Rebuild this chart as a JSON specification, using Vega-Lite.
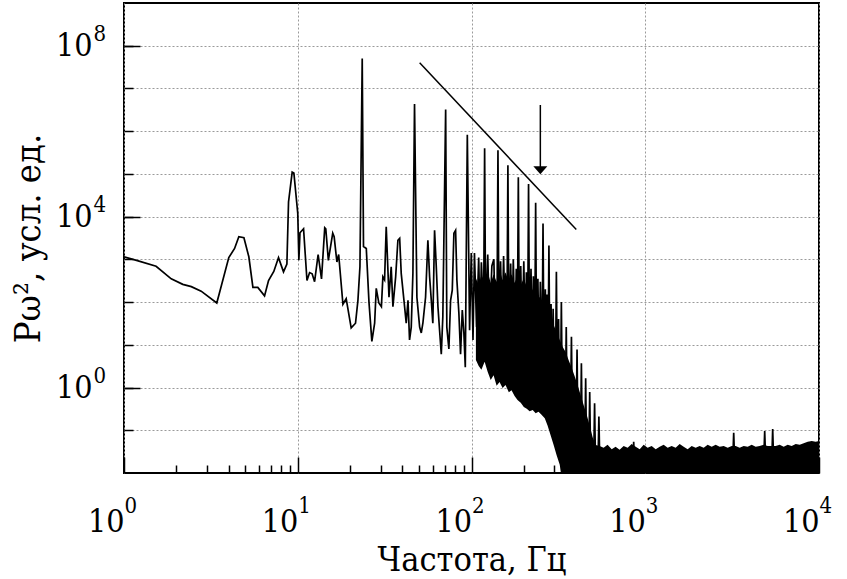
{
  "$schema": "https://vega.github.io/schema/vega-lite/v6.json",
  "width": 695,
  "height": 470,
  "autosize": {"type": "none"},
  "padding": {"left": 124, "top": 3, "right": 28, "bottom": 106},
  "background": "white",
  "config": {
    "view": {"stroke": "#000", "strokeWidth": 2},
    "font": "DejaVu Serif Condensed, DejaVu Serif",
    "axis": {"domain": false, "tickColor": "#000", "tickWidth": 1.5, "labelColor": "#000", "titleColor": "#000", "labelFont": "DejaVu Serif Condensed, DejaVu Serif", "titleFont": "DejaVu Serif Condensed, DejaVu Serif", "titleFontWeight": "normal", "gridColor": "#9a9a9a", "gridDash": [2, 2], "gridWidth": 1, "labelFlush": false, "labelOverlap": false}
  },
  "datasets": {
    "spec": [
      {"f": 1.0, "p": 1150}, {"f": 1.18, "p": 950}, {"f": 1.53, "p": 690}, {"f": 1.87, "p": 350}, {"f": 2.18, "p": 260},
      {"f": 2.44, "p": 230}, {"f": 2.78, "p": 180}, {"f": 3.42, "p": 95}, {"f": 4.01, "p": 1100}, {"f": 4.33, "p": 1800},
      {"f": 4.58, "p": 3400}, {"f": 4.9, "p": 3200}, {"f": 5.23, "p": 1150}, {"f": 5.52, "p": 220}, {"f": 5.89, "p": 220},
      {"f": 6.44, "p": 140}, {"f": 6.79, "p": 320}, {"f": 7.28, "p": 520}, {"f": 7.75, "p": 1100}, {"f": 8.28, "p": 510},
      {"f": 8.66, "p": 780}, {"f": 8.85, "p": 22000}, {"f": 9.29, "p": 110000}, {"f": 9.5, "p": 105000}, {"f": 10.0, "p": 12000},
      {"f": 10.15, "p": 950}, {"f": 10.3, "p": 4200}, {"f": 10.8, "p": 5200}, {"f": 11.3, "p": 320}, {"f": 11.7, "p": 490},
      {"f": 12.1, "p": 460}, {"f": 12.5, "p": 300}, {"f": 13.1, "p": 1300}, {"f": 13.7, "p": 350}, {"f": 14.3, "p": 5500},
      {"f": 14.5, "p": 5200}, {"f": 15.0, "p": 950}, {"f": 15.9, "p": 4100}, {"f": 16.2, "p": 3400}, {"f": 16.8, "p": 870},
      {"f": 17.2, "p": 1300}, {"f": 18.2, "p": 89}, {"f": 19.0, "p": 120}, {"f": 20.3, "p": 25}, {"f": 21.5, "p": 32},
      {"f": 22.2, "p": 110}, {"f": 22.8, "p": 670}, {"f": 23.5, "p": 50000000}, {"f": 23.9, "p": 2000}, {"f": 24.8, "p": 1800},
      {"f": 25.7, "p": 100}, {"f": 26.7, "p": 12}, {"f": 27.7, "p": 32}, {"f": 28.3, "p": 210}, {"f": 29.3, "p": 95},
      {"f": 30.3, "p": 78}, {"f": 30.9, "p": 390}, {"f": 31.6, "p": 330}, {"f": 32.3, "p": 5800}, {"f": 33.5, "p": 130},
      {"f": 34.5, "p": 670}, {"f": 35.3, "p": 78}, {"f": 36.6, "p": 390}, {"f": 37.7, "p": 2800}, {"f": 38.6, "p": 3100},
      {"f": 39.4, "p": 470}, {"f": 41.2, "p": 78}, {"f": 42.1, "p": 32}, {"f": 43.1, "p": 110}, {"f": 44.0, "p": 13},
      {"f": 45.0, "p": 26}, {"f": 46.0, "p": 470}, {"f": 47.0, "p": 4300000}, {"f": 48.5, "p": 130}, {"f": 50.3, "p": 26},
      {"f": 51.4, "p": 19}, {"f": 52.5, "p": 32}, {"f": 54.4, "p": 130}, {"f": 56.1, "p": 2800}, {"f": 57.4, "p": 390},
      {"f": 58.7, "p": 110}, {"f": 59.9, "p": 32}, {"f": 61.3, "p": 4800}, {"f": 62.7, "p": 670}, {"f": 64.1, "p": 78},
      {"f": 65.5, "p": 22}, {"f": 67.0, "p": 6}, {"f": 68.4, "p": 46}, {"f": 71.0, "p": 3200000}, {"f": 72.1, "p": 26},
      {"f": 74.1, "p": 8}, {"f": 75.8, "p": 110}, {"f": 77.5, "p": 190}, {"f": 79.2, "p": 4100}, {"f": 81.0, "p": 4800},
      {"f": 82.4, "p": 330}, {"f": 84.6, "p": 55}, {"f": 86.5, "p": 6}, {"f": 88.5, "p": 65}, {"f": 90.4, "p": 19},
      {"f": 92.1, "p": 3}, {"f": 94.6, "p": 830000}, {"f": 97.5, "p": 22}, {"f": 99.7, "p": 1400}, {"f": 102, "p": 13},
      {"f": 104, "p": 1400}, {"f": 107, "p": 26}, {"f": 110, "p": 1100}, {"f": 112, "p": 30}, {"f": 114, "p": 850},
      {"f": 117.4, "p": 50}, {"f": 119, "p": 400000}, {"f": 120.6, "p": 40},
      {"f": 124, "p": 1300}, {"f": 127, "p": 30}, {"f": 131, "p": 700}, {"f": 134.5, "p": 1000}, {"f": 137, "p": 25},
      {"f": 140.1, "p": 30}, {"f": 142, "p": 360000}, {"f": 143.9, "p": 25},
      {"f": 147, "p": 900}, {"f": 150, "p": 20}, {"f": 153, "p": 1200}, {"f": 156.5, "p": 20},
      {"f": 159.9, "p": 25}, {"f": 162, "p": 160000}, {"f": 164.1, "p": 20},
      {"f": 168, "p": 800}, {"f": 171, "p": 15}, {"f": 174, "p": 1000}, {"f": 178, "p": 12}, {"f": 181, "p": 600},
      {"f": 183.6, "p": 16}, {"f": 186, "p": 83000}, {"f": 188.5, "p": 14},
      {"f": 192, "p": 700}, {"f": 196, "p": 10}, {"f": 200, "p": 900}, {"f": 204, "p": 8}, {"f": 207, "p": 500},
      {"f": 210.2, "p": 10}, {"f": 213, "p": 58000}, {"f": 215.8, "p": 9},
      {"f": 220, "p": 600}, {"f": 224, "p": 6}, {"f": 227, "p": 400},
      {"f": 231, "p": 8}, {"f": 234, "p": 21000}, {"f": 237, "p": 7},
      {"f": 241, "p": 350}, {"f": 245, "p": 5}, {"f": 249, "p": 300},
      {"f": 254.7, "p": 5}, {"f": 258, "p": 6900}, {"f": 261.4, "p": 4},
      {"f": 266, "p": 200}, {"f": 270, "p": 3}, {"f": 272, "p": 150},
      {"f": 275.4, "p": 2.5}, {"f": 279, "p": 2100}, {"f": 282.7, "p": 2},
      {"f": 287, "p": 90}, {"f": 291, "p": 1.5}, {"f": 295, "p": 70}, {"f": 299, "p": 1.2},
      {"f": 304, "p": 1}, {"f": 308, "p": 510}, {"f": 312, "p": 0.8},
      {"f": 317, "p": 40}, {"f": 321, "p": 0.5},
      {"f": 324.8, "p": 0.4}, {"f": 329, "p": 100}, {"f": 333.3, "p": 0.35},
      {"f": 346.5, "p": 0.25}, {"f": 351, "p": 26}, {"f": 355.6, "p": 0.2},
      {"f": 371, "p": 0.16}, {"f": 376, "p": 15.5}, {"f": 381, "p": 0.13},
      {"f": 399.8, "p": 0.06}, {"f": 405, "p": 7.8}, {"f": 410.3, "p": 0.05},
      {"f": 423.5, "p": 0.03}, {"f": 429, "p": 3.7}, {"f": 434.6, "p": 0.03},
      {"f": 448, "p": 0.02}, {"f": 454, "p": 1.66}, {"f": 460, "p": 0.02},
      {"f": 472.8, "p": 0.015}, {"f": 479, "p": 0.79}, {"f": 485.3, "p": 0.015},
      {"f": 504.4, "p": 0.013}, {"f": 511, "p": 0.43}, {"f": 517.7, "p": 0.013},
      {"f": 534, "p": 0.013}, {"f": 541, "p": 0.21}, {"f": 548, "p": 0.013},
      {"f": 850, "p": 0.02}, {"f": 858, "p": 0.054}, {"f": 866, "p": 0.02},
      {"f": 3190, "p": 0.02}, {"f": 3229, "p": 0.087}, {"f": 3268, "p": 0.02},
      {"f": 4810, "p": 0.02}, {"f": 4869, "p": 0.096}, {"f": 4930, "p": 0.02},
      {"f": 5350, "p": 0.02}, {"f": 5413, "p": 0.107}, {"f": 5480, "p": 0.02},
      {"f": 10000, "p": 0.02}
    ],
    "band": [
      {"f": 106, "hi": 360, "lo": 4.4}, {"f": 110, "hi": 250, "lo": 3.2}, {"f": 114, "hi": 430, "lo": 2.6},
      {"f": 119, "hi": 295, "lo": 4.0}, {"f": 124, "hi": 500, "lo": 2.3}, {"f": 129, "hi": 280, "lo": 1.5},
      {"f": 134, "hi": 450, "lo": 1.95}, {"f": 139.5, "hi": 295, "lo": 1.1}, {"f": 145, "hi": 560, "lo": 1.35},
      {"f": 151, "hi": 325, "lo": 0.98}, {"f": 157, "hi": 500, "lo": 1.15}, {"f": 164, "hi": 295, "lo": 0.78},
      {"f": 170, "hi": 450, "lo": 0.87}, {"f": 177, "hi": 280, "lo": 0.63}, {"f": 184, "hi": 410, "lo": 0.51},
      {"f": 192, "hi": 250, "lo": 0.44}, {"f": 200, "hi": 360, "lo": 0.35}, {"f": 208, "hi": 225, "lo": 0.32},
      {"f": 216, "hi": 295, "lo": 0.28}, {"f": 225, "hi": 190, "lo": 0.30}, {"f": 234, "hi": 214, "lo": 0.25},
      {"f": 243, "hi": 138, "lo": 0.27}, {"f": 253, "hi": 112, "lo": 0.23}, {"f": 264, "hi": 81, "lo": 0.19},
      {"f": 274, "hi": 62, "lo": 0.13}, {"f": 285, "hi": 43, "lo": 0.078}, {"f": 297, "hi": 29, "lo": 0.045},
      {"f": 309, "hi": 20, "lo": 0.026}, {"f": 322, "hi": 13, "lo": 0.0155}, {"f": 335, "hi": 8.9, "lo": 0.005},
      {"f": 348, "hi": 6.8, "lo": 0.005}, {"f": 362, "hi": 4.4, "lo": 0.005}, {"f": 377, "hi": 2.9, "lo": 0.005},
      {"f": 392, "hi": 1.86, "lo": 0.005}, {"f": 408, "hi": 1.15, "lo": 0.005}, {"f": 425, "hi": 0.66, "lo": 0.005},
      {"f": 442, "hi": 0.39, "lo": 0.005}, {"f": 460, "hi": 0.23, "lo": 0.005}, {"f": 479, "hi": 0.13, "lo": 0.005},
      {"f": 498, "hi": 0.069, "lo": 0.005}, {"f": 518, "hi": 0.045, "lo": 0.005}, {"f": 546, "hi": 0.043, "lo": 0.005},
      {"f": 576, "hi": 0.039, "lo": 0.005}, {"f": 607, "hi": 0.046, "lo": 0.005}, {"f": 641, "hi": 0.036, "lo": 0.005},
      {"f": 675, "hi": 0.041, "lo": 0.005}, {"f": 712, "hi": 0.035, "lo": 0.005}, {"f": 751, "hi": 0.043, "lo": 0.005},
      {"f": 792, "hi": 0.039, "lo": 0.005}, {"f": 835, "hi": 0.048, "lo": 0.005}, {"f": 881, "hi": 0.041, "lo": 0.005},
      {"f": 929, "hi": 0.036, "lo": 0.005}, {"f": 979, "hi": 0.046, "lo": 0.005}, {"f": 1032, "hi": 0.039, "lo": 0.005},
      {"f": 1089, "hi": 0.043, "lo": 0.005}, {"f": 1148, "hi": 0.036, "lo": 0.005}, {"f": 1211, "hi": 0.041, "lo": 0.005},
      {"f": 1276, "hi": 0.046, "lo": 0.005}, {"f": 1346, "hi": 0.039, "lo": 0.005}, {"f": 1419, "hi": 0.043, "lo": 0.005},
      {"f": 1496, "hi": 0.039, "lo": 0.005}, {"f": 1578, "hi": 0.048, "lo": 0.005}, {"f": 1664, "hi": 0.041, "lo": 0.005},
      {"f": 1754, "hi": 0.036, "lo": 0.005}, {"f": 1850, "hi": 0.043, "lo": 0.005}, {"f": 1951, "hi": 0.039, "lo": 0.005},
      {"f": 2057, "hi": 0.043, "lo": 0.005}, {"f": 2169, "hi": 0.039, "lo": 0.005}, {"f": 2287, "hi": 0.046, "lo": 0.005},
      {"f": 2412, "hi": 0.041, "lo": 0.005}, {"f": 2543, "hi": 0.046, "lo": 0.005}, {"f": 2681, "hi": 0.041, "lo": 0.005},
      {"f": 2828, "hi": 0.043, "lo": 0.005}, {"f": 2982, "hi": 0.039, "lo": 0.005}, {"f": 3144, "hi": 0.043, "lo": 0.005},
      {"f": 3315, "hi": 0.043, "lo": 0.005}, {"f": 3495, "hi": 0.039, "lo": 0.005}, {"f": 3686, "hi": 0.043, "lo": 0.005},
      {"f": 3886, "hi": 0.041, "lo": 0.005}, {"f": 4098, "hi": 0.046, "lo": 0.005}, {"f": 4321, "hi": 0.041, "lo": 0.005},
      {"f": 4556, "hi": 0.043, "lo": 0.005}, {"f": 4805, "hi": 0.046, "lo": 0.005}, {"f": 5066, "hi": 0.043, "lo": 0.005},
      {"f": 5632, "hi": 0.043, "lo": 0.005}, {"f": 5939, "hi": 0.046, "lo": 0.005}, {"f": 6263, "hi": 0.041, "lo": 0.005},
      {"f": 6604, "hi": 0.046, "lo": 0.005}, {"f": 6963, "hi": 0.043, "lo": 0.005}, {"f": 7343, "hi": 0.048, "lo": 0.005},
      {"f": 7743, "hi": 0.046, "lo": 0.005}, {"f": 8164, "hi": 0.05, "lo": 0.005}, {"f": 8608, "hi": 0.054, "lo": 0.005},
      {"f": 9078, "hi": 0.056, "lo": 0.005}, {"f": 9572, "hi": 0.054, "lo": 0.005}, {"f": 10000, "hi": 0.056, "lo": 0.005}
    ],
    "slope": [{"f": 50.3, "p": 40000000}, {"f": 401, "p": 5000}],
    "arrow": [{"f": 249, "top": 4100000, "head": 122000}]
  },
  "layer": [
    {
      "data": {"name": "band"},
      "mark": {"type": "area", "color": "#000", "clip": true, "interpolate": "linear"},
      "encoding": {
        "x": {"field": "f", "type": "quantitative",
          "scale": {"type": "log", "domain": [1, 10000], "nice": false},
          "axis": {"orient": "bottom", "values": [1, 10, 100, 1000, 10000], "tickSize": -16, "labelPadding": 49,
            "labelFontSize": 32, "labelExpr": "'10'", "labelAlign": "right", "labelDx": 12, "grid": true,
            "title": "Частота, Гц", "titleFontSize": 34, "titlePadding": 6}},
        "y": {"field": "hi", "type": "quantitative",
          "scale": {"type": "log", "domain": [0.01, 1000000000], "nice": false},
          "axis": {"orient": "left", "values": [1, 10000, 100000000], "tickSize": -16, "labelPadding": 48,
            "labelFontSize": 32, "labelExpr": "'10'", "grid": false,
            "title": "Pω², усл. ед.", "titleFontSize": 36, "titlePadding": 8}},
        "y2": {"field": "lo"}
      }
    },
    {
      "data": {"name": "spec"},
      "mark": {"type": "line", "color": "#000", "strokeWidth": 1.7, "clip": true},
      "encoding": {
        "x": {"field": "f", "type": "quantitative",
          "axis": {"orient": "bottom", "values": [2,3,4,5,6,7,8,9,20,30,40,50,60,70,80,90,200,300,400,500,600,700,800,900,2000,3000,4000,5000,6000,7000,8000,9000],
            "tickSize": -8, "labels": false, "grid": false, "title": null}},
        "y": {"field": "p", "type": "quantitative",
          "axis": {"orient": "left", "values": [0.1, 1, 10, 100, 1000, 10000, 100000, 1000000, 10000000, 100000000],
            "tickSize": -9, "labels": false, "grid": true, "title": null}}
      }
    },
    {
      "data": {"name": "slope"},
      "mark": {"type": "line", "color": "#000", "strokeWidth": 1.5},
      "encoding": {
        "x": {"field": "f", "type": "quantitative",
          "axis": {"orient": "bottom", "values": [1, 10, 100, 1000, 10000], "tickSize": 0, "tickOpacity": 0,
            "labelPadding": 22, "labelFontSize": 22, "labelAlign": "left", "labelDx": 12,
            "labelExpr": "format(round(log(datum.value)/LN10), 'd')", "grid": false, "title": null}},
        "y": {"field": "p", "type": "quantitative",
          "axis": {"orient": "left", "values": [1, 10000, 100000000], "tickSize": 0, "tickOpacity": 0,
            "labelPadding": 31, "labelFontSize": 22, "labelAlign": "left", "labelBaseline": "bottom",
            "labelExpr": "format(round(log(datum.value)/LN10), 'd')", "grid": false, "title": null}}
      }
    },
    {
      "data": {"name": "arrow"},
      "mark": {"type": "rule", "color": "#000", "strokeWidth": 1.5},
      "encoding": {
        "x": {"field": "f", "type": "quantitative", "axis": null},
        "y": {"field": "top", "type": "quantitative", "axis": null},
        "y2": {"field": "head"}
      }
    },
    {
      "data": {"name": "arrow"},
      "mark": {"type": "point", "shape": "M-1,-0.57L1,-0.57L0,0.57Z", "filled": true, "color": "#000", "opacity": 1, "size": 196},
      "encoding": {
        "x": {"field": "f", "type": "quantitative", "axis": null},
        "y": {"field": "head", "type": "quantitative", "axis": null}
      }
    }
  ],
  "resolve": {"axis": {"x": "independent", "y": "independent"}}
}
